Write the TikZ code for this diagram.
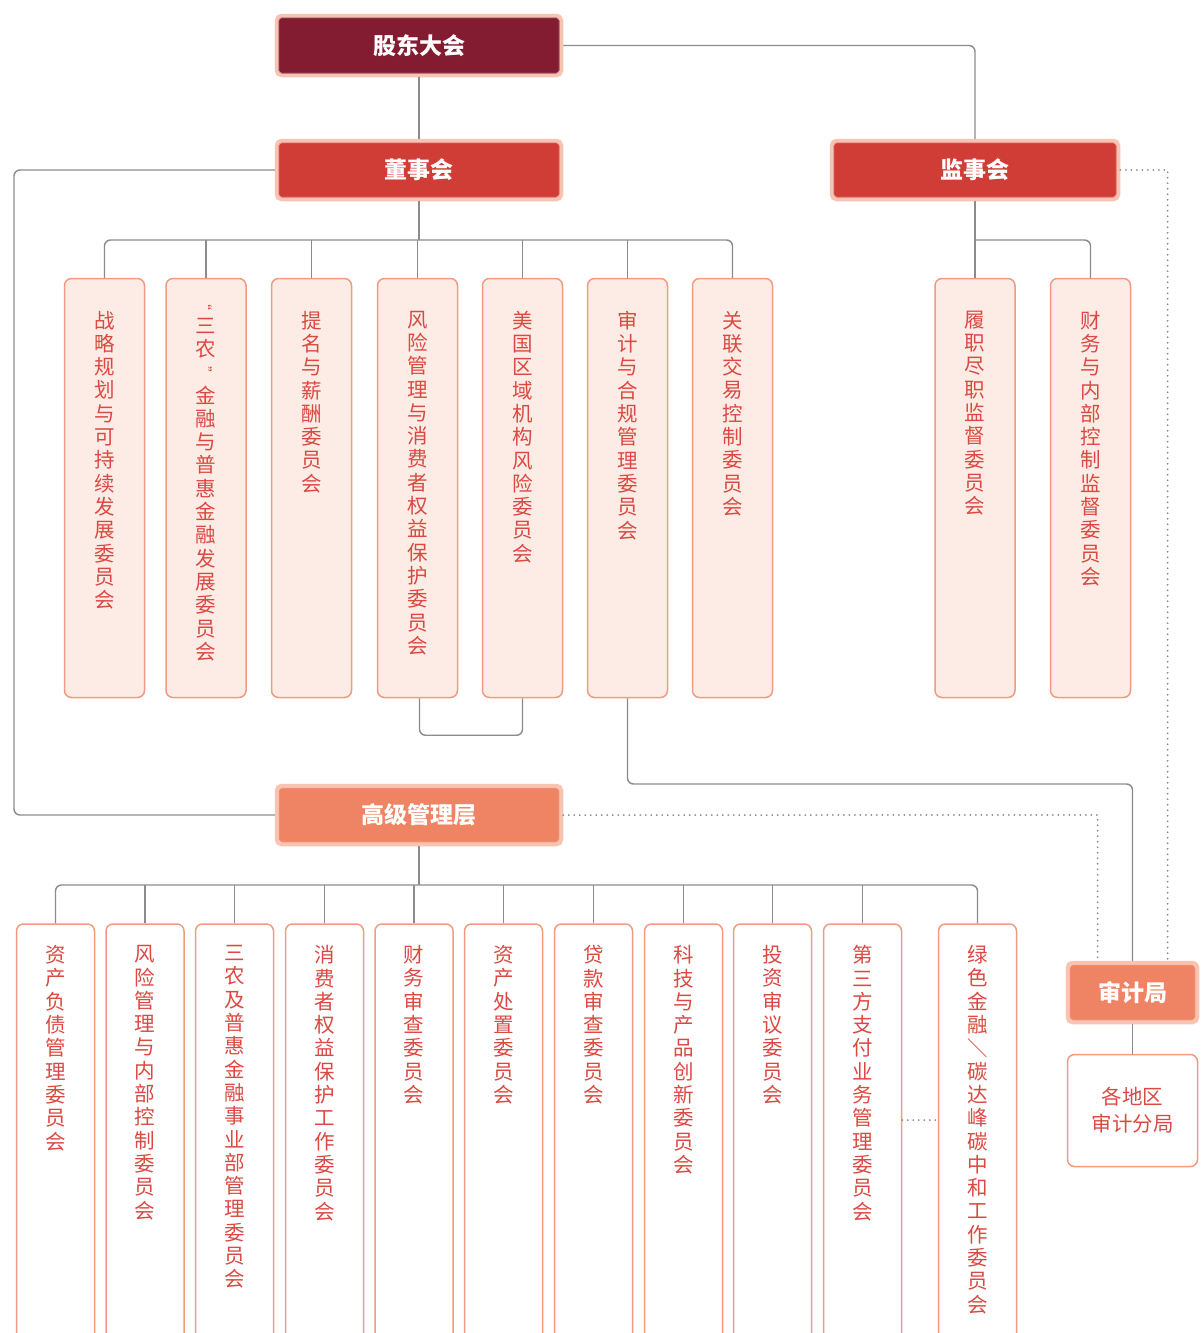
\documentclass[tikz,border=0pt]{standalone}
\usepackage{fontspec}
\setmainfont{Noto Sans CJK SC}
\usetikzlibrary{calc}
\definecolor{gdred}{HTML}{841C31}
\definecolor{bred}{HTML}{D03C36}
\definecolor{mgor}{HTML}{EE8464}
\definecolor{glow}{HTML}{F8C3B1}
\definecolor{boxln}{HTML}{F19B80}
\definecolor{boxfill}{HTML}{FCECE5}
\definecolor{txtred}{HTML}{DA4A43}
\definecolor{connc}{HTML}{8C8C8C}
\makeatletter
\newcommand\vstk[1]{\vbox{\baselineskip=23.3pt\lineskip=0pt\lineskiplimit=-30pt\@tfor\vchr:=#1\do{\hbox to 24pt{\hss\vchr\hss}}}}
\makeatother
\newcommand\qopen{\rotatebox[origin=c]{-90}{\fontsize{14}{14}\selectfont “}}
\newcommand\qclose{\rotatebox[origin=c]{-90}{\fontsize{14}{14}\selectfont ”}}
\newcommand\vslash{\rotatebox[origin=c]{90}{／}}
\tikzset{
  head/.style={draw=glow, line width=3.5pt, rounded corners=5pt, text=white,
    font=\fontsize{23}{27}\selectfont\bfseries, inner sep=0pt},
  cbox/.style={draw=boxln, line width=1.5pt, fill=boxfill, rounded corners=7pt,
    minimum width=80pt, minimum height=419pt, inner sep=0pt},
  bbox/.style={draw=boxln, line width=1.5pt, fill=white, rounded corners=7pt,
    minimum width=78pt, minimum height=440pt, inner sep=0pt},
  vtxt/.style={anchor=north, inner sep=0pt, text=txtred, font=\fontsize{20.5}{23.3}\selectfont},
  conline/.style={draw=connc, line width=1.4pt, rounded corners=6pt},
  dotl/.style={draw=connc, line width=2pt, line cap=round, dash pattern=on 0pt off 5.5pt}
}
\begin{document}
\begin{tikzpicture}[x=1pt,y=-1pt]
\useasboundingbox (0,0) rectangle (1202,1333);
\clip (0,0) rectangle (1202,1333);
\fill[white] (0,0) rectangle (1202,1333);

% header boxes
\node[head, fill=gdred, minimum width=285pt, minimum height=60pt] (gd) at (419,45.5) {股东大会};
\node[head, fill=bred, minimum width=285pt, minimum height=59pt] (dsh) at (419,170) {董事会};
\node[head, fill=bred, minimum width=287pt, minimum height=59pt] (jsh) at (975,170) {监事会};
\node[head, fill=mgor, minimum width=285pt, minimum height=59pt] (gj) at (419,815) {高级管理层};
\node[head, fill=mgor, minimum width=130pt, minimum height=60pt] (sjj) at (1132.5,992.5) {审计局};
\node[draw=boxln, line width=1.5pt, fill=white, rounded corners=7pt, minimum width=130pt,
  minimum height=112pt, text=txtred, align=center, font=\fontsize{20.5}{27}\selectfont] (fj)
  at (1132.5,1110.5) {各地区\\审计分局};
\foreach \n in {gd,dsh,jsh,gj,sjj}
  \draw[white, opacity=0.55, line width=0.8pt, rounded corners=3pt]
    ([shift={(4,4)}]\n.north west) rectangle ([shift={(-4,-4)}]\n.south east);

% board committees
\node[cbox] (c1) at (104.5,488) {};
\node[cbox] (c2) at (206,488) {};
\node[cbox] (c3) at (311.5,488) {};
\node[cbox] (c4) at (417.5,488) {};
\node[cbox] (c5) at (522.5,488) {};
\node[cbox] (c6) at (627.5,488) {};
\node[cbox] (c7) at (732.5,488) {};
\node[cbox] (s1) at (975,488) {};
\node[cbox] (s2) at (1090.5,488) {};

\node[vtxt] (tc1) at ($(c1.north)+(0,33)$) {\vstk{战略规划与可持续发展委员会}};
\node[vtxt] (tc2) at ($(c2.north)+(0,19)$) {\vstk{\qopen 三农\qclose 金融与普惠金融发展委员会}};
\node[vtxt] (tc3) at ($(c3.north)+(0,33)$) {\vstk{提名与薪酬委员会}};
\node[vtxt] (tc4) at ($(c4.north)+(0,33)$) {\vstk{风险管理与消费者权益保护委员会}};
\node[vtxt] (tc5) at ($(c5.north)+(0,33)$) {\vstk{美国区域机构风险委员会}};
\node[vtxt] (tc6) at ($(c6.north)+(0,33)$) {\vstk{审计与合规管理委员会}};
\node[vtxt] (tc7) at ($(c7.north)+(0,33)$) {\vstk{关联交易控制委员会}};
\node[vtxt] (ts1) at ($(s1.north)+(0,33)$) {\vstk{履职尽职监督委员会}};
\node[vtxt] (ts2) at ($(s2.north)+(0,33)$) {\vstk{财务与内部控制监督委员会}};

% management committees
\node[bbox] (b1) at (55.5,1144) {};
\node[bbox] (b2) at (145,1144) {};
\node[bbox] (b3) at (234.5,1144) {};
\node[bbox] (b4) at (324.5,1144) {};
\node[bbox] (b5) at (414,1144) {};
\node[bbox] (b6) at (503.5,1144) {};
\node[bbox] (b7) at (593.5,1144) {};
\node[bbox] (b8) at (683.5,1144) {};
\node[bbox] (b9) at (772.5,1144) {};
\node[bbox] (b10) at (862.5,1144) {};
\node[bbox] (b11) at (977.5,1144) {};

\node[vtxt] (tb1) at ($(b1.north)+(0,22)$) {\vstk{资产负债管理委员会}};
\node[vtxt] (tb2) at ($(b2.north)+(0,22)$) {\vstk{风险管理与内部控制委员会}};
\node[vtxt] (tb3) at ($(b3.north)+(0,22)$) {\vstk{三农及普惠金融事业部管理委员会}};
\node[vtxt] (tb4) at ($(b4.north)+(0,22)$) {\vstk{消费者权益保护工作委员会}};
\node[vtxt] (tb5) at ($(b5.north)+(0,22)$) {\vstk{财务审查委员会}};
\node[vtxt] (tb6) at ($(b6.north)+(0,22)$) {\vstk{资产处置委员会}};
\node[vtxt] (tb7) at ($(b7.north)+(0,22)$) {\vstk{贷款审查委员会}};
\node[vtxt] (tb8) at ($(b8.north)+(0,22)$) {\vstk{科技与产品创新委员会}};
\node[vtxt] (tb9) at ($(b9.north)+(0,22)$) {\vstk{投资审议委员会}};
\node[vtxt] (tb10) at ($(b10.north)+(0,22)$) {\vstk{第三方支付业务管理委员会}};
\node[vtxt] (tb11) at ($(b11.north)+(0,22)$) {\vstk{绿色金融\vslash 碳达峰碳中和工作委员会}};

% coordinates
\coordinate (busB) at (0,240);
\coordinate (busM) at (0,885);
\coordinate (lft) at (14,815);
\coordinate (aud) at (0,784);

% connectors
\draw[conline] (gd.south) -- (dsh.north);
\draw[conline] (gd.east) -| (jsh.north);
\draw[conline] (dsh.west) -| (lft) -- (gj.west);
\draw[conline] (dsh.south) -- (dsh.south |- busB);
\draw[conline] (c1.north) |- (c7.north |- busB) -- (c7.north);
\foreach \c in {c2,c3,c4,c5,c6}
  \draw[conline] (\c.north) -- (\c.north |- busB);
\draw[conline] (jsh.south) -- (s1.north);
\draw[conline] (jsh.south |- busB) -| (s2.north);
\draw[conline] ($(c4.south)+(2,0)$) |- ($(c5.south)+(0,37)$) -- (c5.south);
\draw[conline] (c6.south) |- (sjj.north |- aud) -- (sjj.north);
\draw[dotl] (jsh.east) -| ($(sjj.north)+(35,0)$);
\draw[dotl] (gj.east) -| ($(sjj.north)+(-35,0)$);
\draw[conline] (sjj.south) -- (fj.north);
\draw[conline] (gj.south) -- (gj.south |- busM);
\draw[conline] (b1.north) |- (b11.north |- busM) -- (b11.north);
\foreach \b in {b2,b3,b4,b5,b6,b7,b8,b9,b10}
  \draw[conline] (\b.north) -- (\b.north |- busM);
\draw[dotl] (b10.east |- 0,1120) -- (b11.west |- 0,1120);
\end{tikzpicture}
\end{document}
